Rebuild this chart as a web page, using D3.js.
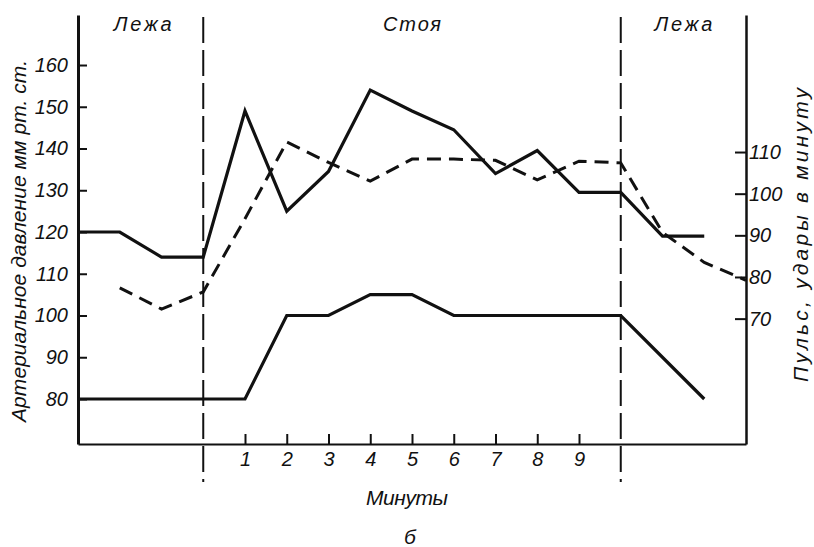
<!DOCTYPE html>
<html>
<head>
<meta charset="utf-8">
<script src="https://cdn.jsdelivr.net/npm/d3@7"></script>
<style>
  html, body { margin: 0; padding: 0; background: #fff; }
  svg { display: block; }
  text { font-family: "Liberation Sans", sans-serif; font-style: italic; fill: #111; }
</style>
</head>
<body>
<svg id="chart" width="814" height="547"></svg>
<script>
// ---- data ----
const minutes   = [-3, -2, -1, 0, 1, 2, 3, 4, 5, 6, 7, 8, 9, 10, 11, 12, 13];
const systolic  = [120, 120, 114, 114, 149, 125, 134.5, 154, 149, 144.5, 134, 139.5, 129.5, 129.5, 119, 119, null];
const diastolic = [80, 80, 80, 80, 80, 100, 100, 105, 105, 100, 100, 100, 100, 100, null, 80, null];
const pulse     = [null, 77.4, 72.3, 76.4, 94, 112.4, 107.5, 103, 108.3, 108.3, 108, 103.3, 107.8, 107.4, 90.7, 83.5, 79.2];
const phaseBreaks = [0, 10];
const phaseLabels = ["Лежа", "Стоя", "Лежа"];
const phaseCenters = [-1.45, 5, 11.5];
const pressureTicks = [80, 90, 100, 110, 120, 130, 140, 150, 160];
const pulseTicks = [70, 80, 90, 100, 110];
const minuteTicks = [1, 2, 3, 4, 5, 6, 7, 8, 9];
const leftTitle = "Артериальное давление мм рт. ст.";
const rightTitle = "Пульс, удары в минуту";
const xTitle = "Минуты";
const panelLabel = "б";

const svg = d3.select("#chart");
const X0 = 78, X1 = 746, YB = 444, YT = 15;

const x = d3.scaleLinear().domain([-3, 13]).range([X0, X1]);
const yL = d3.scaleLinear().domain([69.22, 171.98]).range([YB, YT]);
const yR = d3.scaleLinear().domain([39.9, 142.9]).range([YB, YT]);

// vertical dashed phase lines
svg.selectAll("line.phase").data(phaseBreaks).enter().append("line")
  .attr("x1", d => x(d)).attr("x2", d => x(d))
  .attr("y1", 17).attr("y2", 482)
  .attr("stroke", "#111").attr("stroke-width", 2)
  .attr("stroke-dasharray", "26,7");

// axes
const fontSize = "20px";
const gL = svg.append("g").attr("transform", `translate(${X0},0)`)
  .call(d3.axisLeft(yL).tickValues(pressureTicks).tickSizeInner(-9).tickSizeOuter(0).tickPadding(10).tickFormat(d3.format("d")));
const gR = svg.append("g").attr("transform", `translate(${X1},0)`)
  .call(d3.axisRight(yR).tickValues(pulseTicks).tickSizeInner(-11).tickSizeOuter(0).tickPadding(3).tickFormat(d3.format("d")));
const gB = svg.append("g").attr("transform", `translate(0,${YB})`)
  .call(d3.axisBottom(x).tickValues(minuteTicks).tickSizeInner(-10).tickSizeOuter(0).tickPadding(8).tickFormat(d3.format("d")));

[gL, gR, gB].forEach(g => {
  g.select(".domain").attr("stroke", "#111");
  g.selectAll(".tick line").attr("stroke", "#111").attr("stroke-width", 2);
  g.selectAll(".tick text").attr("font-size", fontSize).attr("fill", "#111")
    .style("font-family", '"Liberation Sans", sans-serif').style("font-style", "italic");
});
gL.select(".domain").attr("stroke-width", 3);
gR.select(".domain").attr("stroke-width", 2.5);
gB.select(".domain").attr("stroke-width", 2.2);

// series
function series(vals) {
  return minutes.map((m, i) => ({ m, v: vals[i] })).filter(d => d.v !== null);
}
const lineL = d3.line().x(d => x(d.m)).y(d => yL(d.v));
const lineR = d3.line().x(d => x(d.m)).y(d => yR(d.v));

svg.append("path").datum(series(systolic)).attr("d", lineL)
  .attr("fill", "none").attr("stroke", "#111").attr("stroke-width", 3.2).attr("stroke-linejoin", "miter");
svg.append("path").datum(series(diastolic)).attr("d", lineL)
  .attr("fill", "none").attr("stroke", "#111").attr("stroke-width", 3.2).attr("stroke-linejoin", "miter");
svg.append("path").datum(series(pulse)).attr("d", lineR)
  .attr("fill", "none").attr("stroke", "#111").attr("stroke-width", 3).attr("stroke-dasharray", "14,8");

// phase labels
svg.selectAll("text.phase").data(phaseLabels).enter().append("text")
  .attr("x", (d, i) => x(phaseCenters[i])).attr("y", 31)
  .attr("text-anchor", "middle").attr("font-size", "20px")
  .attr("textLength", 58).attr("lengthAdjust", "spacing")
  .text(d => d);

// axis titles
svg.append("text").attr("transform", "translate(26,241) rotate(-90)")
  .attr("text-anchor", "middle").attr("font-size", "21px")
  .attr("textLength", 362).attr("lengthAdjust", "spacing")
  .text(leftTitle);
svg.append("text").attr("transform", "translate(808,235) rotate(-90)")
  .attr("text-anchor", "middle").attr("font-size", "21px")
  .attr("textLength", 294).attr("lengthAdjust", "spacing")
  .text(rightTitle);
svg.append("text").attr("x", 407).attr("y", 505)
  .attr("text-anchor", "middle").attr("font-size", "21px")
  .attr("textLength", 82).attr("lengthAdjust", "spacing")
  .text(xTitle);
svg.append("text").attr("x", 410).attr("y", 544)
  .attr("text-anchor", "middle").attr("font-size", "21px")
  .text(panelLabel);
</script>
</body>
</html>
